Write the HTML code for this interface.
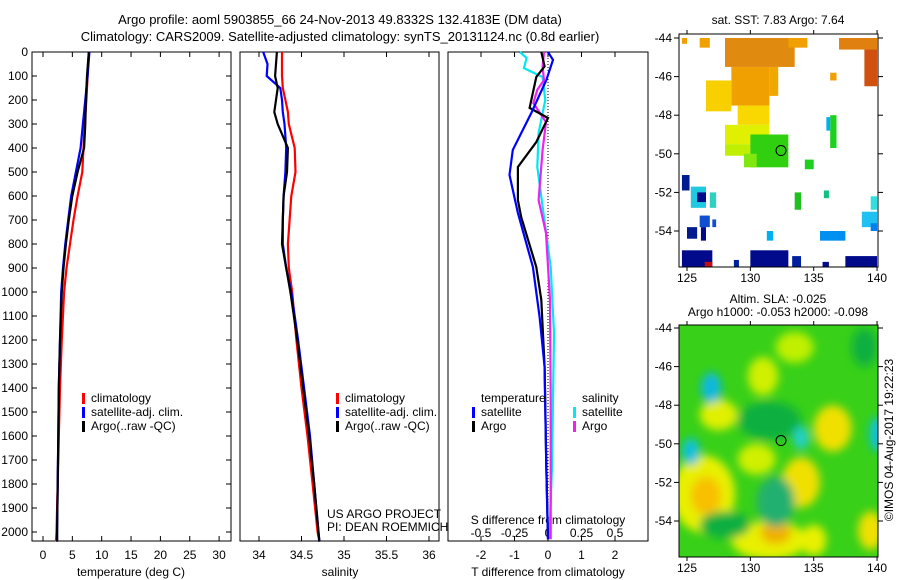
<!DOCTYPE html>
<html><head><meta charset="utf-8"><style>
html,body{margin:0;padding:0;background:#fff;}
svg{display:block;font-family:"Liberation Sans",sans-serif;}
</style></head><body>
<svg id="chart" width="900" height="580" viewBox="0 0 900 580" xmlns="http://www.w3.org/2000/svg">
<defs>
<filter id="blur" x="-50%" y="-50%" width="200%" height="200%"><feGaussianBlur stdDeviation="4.5"/></filter>
<clipPath id="clipTop"><rect x="679" y="34" width="199" height="233"/></clipPath>
<clipPath id="clipBot"><rect x="679" y="325" width="199" height="232"/></clipPath>
</defs>
<text x="340" y="24" font-size="13" text-anchor="middle">Argo profile: aoml 5903855_66 24-Nov-2013 49.8332S 132.4183E (DM data)</text>
<text x="340" y="41" font-size="13" text-anchor="middle">Climatology: CARS2009. Satellite-adjusted climatology: synTS_20131124.nc (0.8d earlier)</text>
<g id="g"></g>
</svg>
<script>
// ---- data ----
const depthTicks=[0,100,200,300,400,500,600,700,800,900,1000,1100,1200,1300,1400,1500,1600,1700,1800,1900,2000];
const tempTicks=[0,5,10,15,20,25,30];
const salTicks=[34,34.5,35,35.5,36];
const salTickLabels=["34","34.5","35","35.5","36"];
const tdTicks=[-2,-1,0,1,2];
const sdTicks=[-0.5,-0.25,0,0.25,0.5];
const sdTickLabels=["-0.5","-0.25","0","0.25","0.5"];

const tDepth=[0,100,200,300,400,500,600,700,800,900,1000,1200,1400,1600,1800,2000,2040];
const tClim=[7.8,7.6,7.4,7.1,6.9,6.7,5.9,5.2,4.6,4.0,3.6,3.2,2.9,2.7,2.5,2.3,2.2];
const tSat=[7.9,7.6,7.2,6.8,6.4,5.6,4.8,4.3,3.8,3.4,3.1,2.9,2.7,2.6,2.5,2.4,2.4];
const tArgo=[7.8,7.5,7.3,7.2,7.0,5.9,5.0,4.4,3.9,3.5,3.2,2.9,2.7,2.6,2.5,2.4,2.4];

const sDepth=[0,50,100,150,200,250,300,400,500,600,700,800,900,1000,1200,1400,1600,1800,2000,2040];
const sClim=[34.27,34.27,34.27,34.28,34.31,34.34,34.35,34.42,34.43,34.38,34.36,34.34,34.35,34.39,34.44,34.50,34.57,34.63,34.69,34.71];
const sSat=[34.05,34.10,34.09,34.25,34.27,34.28,34.30,34.32,34.31,34.29,34.28,34.28,34.32,34.38,34.46,34.53,34.60,34.65,34.70,34.71];
const sArgo=[34.21,34.20,34.19,34.22,34.20,34.18,34.22,34.34,34.33,34.29,34.28,34.27,34.32,34.37,34.45,34.52,34.59,34.65,34.70,34.71];

const dtSatDepth=[0,33,117,254,408,512,671,896,1104,1312,1729,2030];
const dtSat=[0,0.15,-0.05,-0.5,-1.05,-1.15,-0.9,-0.45,-0.25,-0.1,-0.05,0];
const dtArgoDepth=[0,60,104,233,275,375,479,617,688,896,1033,1312,1729,2030];
const dtArgo=[-0.2,-0.1,-0.35,-0.55,0,-0.35,-0.9,-0.9,-0.8,-0.35,-0.2,-0.1,-0.05,0];
const dsSatDepth=[0,25,67,104,200,337,479,688,896,1171,1729,2030];
const dsSat=[-0.21,-0.16,-0.18,-0.04,-0.02,-0.07,-0.08,-0.03,0.02,0.045,0.03,0.01];
const dsArgoDepth=[0,62,117,158,213,254,292,408,617,754,1033,1450,2030];
const dsArgo=[-0.03,-0.04,-0.03,-0.08,-0.11,-0.06,-0.015,-0.04,-0.07,-0.015,0.015,0.02,0.02];

const lonTicks=[125,130,135,140];
const latTicks=[-44,-46,-48,-50,-52,-54];
const sstPatches=[
[128,133.5,-44,-45.5,'#e08a10'],[128.5,131.5,-45.5,-47.5,'#f0a000'],[131.5,132.2,-45.5,-47,'#f0a800'],
[126.5,128.5,-46.2,-47.8,'#f8d000'],[129,131.5,-47.5,-48.5,'#f8d800'],[128,131.5,-48.5,-49.5,'#e0f000'],
[128,130,-49.5,-50.1,'#c0f000'],[130,133,-49,-50.7,'#30d010'],[129.5,130.5,-50,-50.7,'#80e810'],[134.3,135,-50.3,-50.8,'#20d020'],
[133.5,134,-52,-52.9,'#20c020'],[136.3,136.8,-48,-49.7,'#20d020'],[136,136.3,-48.1,-48.8,'#00b0f0'],
[135.8,136.2,-51.9,-52.3,'#10c080'],[139,140,-44,-46.5,'#d05010'],[137,140,-44,-44.6,'#e08010'],
[133,134.5,-44,-44.5,'#f0a000'],[136.3,136.8,-45.8,-46.2,'#f0a000'],[124.6,125,-44,-44.3,'#f0a000'],
[126,126.8,-44,-44.5,'#f0a000'],[124.6,127,-55,-55.9,'#000a8a'],[130,133,-55,-55.9,'#000a8a'],
[133.3,134,-55.3,-55.9,'#0020a0'],[135.7,136.2,-55.6,-55.9,'#000a8a'],[137.5,140,-55.3,-55.9,'#000a8a'],
[128.7,129.1,-55.5,-55.9,'#0020a0'],[126.4,127,-55.6,-55.9,'#c01010'],[124.6,125.2,-51.1,-51.9,'#001a90'],
[125.3,126.5,-51.7,-52.8,'#20c8e0'],[125.8,126.5,-52,-52.5,'#000a8a'],[126.8,127.3,-52,-52.8,'#30d0c0'],
[126,126.8,-53.2,-53.8,'#1050d0'],[125,125.8,-53.8,-54.4,'#001a90'],[126.1,126.5,-53.8,-54.5,'#000a8a'],
[127,127.3,-53.4,-53.8,'#1050d0'],[131.3,131.8,-54,-54.5,'#00b0f0'],[135.5,137.5,-54,-54.5,'#0090f0'],
[138.8,140,-53,-53.8,'#20c0f0'],[139.5,140,-52.2,-52.9,'#30e0e0'],[139.5,140,-53.6,-54,'#0080f0']];
const slaBlobs=[
[126.3,-52.6,2.5,2,'#e8f000'],[126.5,-52.7,1.2,1,'#f8c000'],[131.5,-55,3,1,'#e8f000'],[132,-54.6,1.2,0.6,'#f0b000'],
[136.5,-49.2,1.5,1.2,'#f0e000'],[134,-52,1.5,1.3,'#f0e000'],[130.5,-50.8,1.5,0.8,'#d0f000'],[131,-46.5,1.2,1,'#d0f000'],
[127.5,-48.5,1.5,0.8,'#e0f000'],[139.5,-54.5,1,1,'#f0e000'],[135,-55,1,0.8,'#e8f000'],[133.5,-45,1.5,0.8,'#c0f000'],
[131.5,-48.8,2.5,1,'#10b040'],[132,-53,1.5,1.3,'#20b070'],[128,-54.2,2,0.7,'#10b040'],[139,-45,1,1,'#10b040'],
[126.9,-47.1,0.8,0.8,'#10b8e0'],[125.3,-50.4,0.7,0.7,'#10c0e0'],[134,-49.7,0.6,0.6,'#20d0d0'],[140,-49.5,0.6,0.9,'#10c0e0']];

// ---- helpers ----
const NS="http://www.w3.org/2000/svg";
const root=document.getElementById('g');
function mk(tag,attrs,parent){const e=document.createElementNS(NS,tag);for(const k in attrs)e.setAttribute(k,attrs[k]);(parent||root).appendChild(e);return e;}
const Y0=52,YS=0.24;
function yD(d){return Y0+d*YS;}
function xT(v){return 43+v*5.87;}
function xS(v){return 259+(v-34)*85;}
function xDT(v){return 548+v*33.5;}
function xDS(v){return 548+v*134;}
function lonX(l){return 687+(l-125)*12.67;}
function latYTop(l){return 38+(-44-l)*19.3;}
function latYBot(l){return 328+(-44-l)*19.3;}

const panels=[[32,231,'temperature-panel'],[240,439,'salinity-panel'],[448,648,'difference-panel']];
panels.forEach(p=>{
  const r=mk('rect',{x:p[0],y:52,width:p[1]-p[0],height:489,fill:'none',stroke:'#000','stroke-width':1});
  
  
});
depthTicks.forEach(d=>{
  const t=mk('text',{x:28,y:yD(d)+4,'font-size':12,'text-anchor':'end'});t.textContent=d;
  
  
  mk('line',{x1:32,x2:37,y1:yD(d),y2:yD(d),stroke:'#000'});
  mk('line',{x1:226,x2:231,y1:yD(d),y2:yD(d),stroke:'#000'});
});
function xticks(ticks,labels,fx,ly){
  ticks.forEach((v,i)=>{
    const x=fx(v);
    mk('line',{x1:x,x2:x,y1:52,y2:57,stroke:'#000'});
    mk('line',{x1:x,x2:x,y1:536,y2:541,stroke:'#000'});
    const t=mk('text',{x:x,y:ly,'font-size':12,'text-anchor':'middle'});t.textContent=labels[i];
    
    
  });
}
xticks(tempTicks,tempTicks.map(String),xT,559);
xticks(salTicks,salTickLabels,xS,559);
xticks(tdTicks,tdTicks.map(String),xDT,559);
sdTicks.forEach((v,i)=>{
  const t=mk('text',{x:xDS(v),y:537,'font-size':12,'text-anchor':'middle'});t.textContent=sdTickLabels[i];
  
  
});
[[131,576,'temperature (deg C)','temperature-axis-title'],[340,576,'salinity','salinity-axis-title'],[548,576,'T difference from climatology','t-diff-axis-title'],[548,524,'S difference from climatology','s-diff-axis-title']].forEach(a=>{
  const t=mk('text',{x:a[0],y:a[1],'font-size':12,'text-anchor':'middle'});t.textContent=a[2];
  
  
});
mk('line',{x1:548,x2:548,y1:52,y2:541,stroke:'#000','stroke-dasharray':'1,2'});

function line(depths,vals,fx,color,name){
  const pts=depths.map((d,i)=>fx(vals[i]).toFixed(1)+','+yD(d).toFixed(1)).join(' ');
  const e=mk('polyline',{points:pts,fill:'none',stroke:color,'stroke-width':2.2});
  
  
}
line(tDepth,tClim,xT,'#f00','temp-climatology-line');
line(tDepth,tSat,xT,'#00f','temp-satellite-line');
line(tDepth,tArgo,xT,'#000','temp-argo-line');
line(sDepth,sClim,xS,'#f00','sal-climatology-line');
line(sDepth,sSat,xS,'#00f','sal-satellite-line');
line(sDepth,sArgo,xS,'#000','sal-argo-line');
line(dsSatDepth,dsSat,xDS,'#00e8f0','s-diff-satellite-line');
line(dsArgoDepth,dsArgo,xDS,'#f020f0','s-diff-argo-line');
line(dtArgoDepth,dtArgo,xDT,'#000','t-diff-argo-line');
line(dtSatDepth,dtSat,xDT,'#00f','t-diff-satellite-line');

function legend(x,y,color,label,name){
  if(color) mk('rect',{x:x-9,y:y-9,width:3,height:11,fill:color});
  const t=mk('text',{x:x,y:y,'font-size':12});t.textContent=label;
  
  
}
legend(91,402,'#f00','climatology','legend-climatology');
legend(91,416,'#00f','satellite-adj. clim.','legend-satellite');
legend(91,430,'#000','Argo(..raw -QC)','legend-argo');
legend(345,402,'#f00','climatology','legend-climatology-2');
legend(345,416,'#00f','satellite-adj. clim.','legend-satellite-2');
legend(345,430,'#000','Argo(..raw -QC)','legend-argo-2');
legend(481,402,null,'temperature','legend-temperature-heading');
legend(481,416,'#00f','satellite','legend-t-satellite');
legend(481,430,'#000','Argo','legend-t-argo');
legend(582,402,null,'salinity','legend-salinity-heading');
legend(582,416,'#00e8f0','satellite','legend-s-satellite');
legend(582,430,'#f020f0','Argo','legend-s-argo');
legend(327,518,null,'US ARGO PROJECT','credit-project');
legend(327,531,null,'PI: DEAN ROEMMICH','credit-pi');

// ---- maps ----
const gTop=mk('g',{'clip-path':'url(#clipTop)'});


sstPatches.forEach(p=>{
  const x0=lonX(p[0]),x1=lonX(p[1]),y0=latYTop(p[2]),y1=latYTop(p[3]);
  const r=mk('rect',{x:x0,y:y0,width:x1-x0,height:y1-y0,fill:p[4]},gTop);
  
  
});
const gBot=mk('g',{'clip-path':'url(#clipBot)'});


mk('rect',{x:679,y:325,width:199,height:232,fill:'#38d018'},gBot);
const gBlur=mk('g',{filter:'url(#blur)'},gBot);
slaBlobs.forEach(b=>{
  const e=mk('ellipse',{cx:lonX(b[0]),cy:latYBot(b[1]),rx:b[2]*12.67,ry:b[3]*19.3,fill:b[4]},gBlur);
  
  
});
function mapFrame(y0,y1,fy,name){
  const r=mk('rect',{x:679,y:y0,width:199,height:y1-y0,fill:'none',stroke:'#000'});
  
  
  latTicks.forEach(l=>{
    const y=fy(l);
    mk('line',{x1:674,x2:679,y1:y,y2:y,stroke:'#000'});
    mk('line',{x1:878,x2:883,y1:y,y2:y,stroke:'#000'});
    const t=mk('text',{x:672,y:y+4,'font-size':12,'text-anchor':'end'});t.textContent=l;
    
    
  });
  lonTicks.forEach(l=>{
    const x=lonX(l);
    mk('line',{x1:x,x2:x,y1:y0-4,y2:y0,stroke:'#000'});
    mk('line',{x1:x,x2:x,y1:y1,y2:y1+4,stroke:'#000'});
    const t=mk('text',{x:x,y:y1+15,'font-size':12,'text-anchor':'middle'});t.textContent=l;
    
    
  });
  const c=mk('circle',{cx:lonX(132.42),cy:fy(-49.83),r:5,fill:'none',stroke:'#000'});
  
  
}
mapFrame(34,267,latYTop,'sst-map-frame');
mapFrame(325,557,latYBot,'sla-map-frame');
[[778,24,'sat. SST: 7.83 Argo: 7.64','sst-map-title'],[778,303,'Altim. SLA: -0.025','sla-map-title'],[778,316,'Argo h1000: -0.053 h2000: -0.098','sla-map-subtitle']].forEach(a=>{
  const t=mk('text',{x:a[0],y:a[1],'font-size':12,'text-anchor':'middle'});t.textContent=a[2];
  
  
});
const cr=mk('text',{x:0,y:0,'font-size':12,'text-anchor':'middle',transform:'translate(893,440) rotate(-90)'});
cr.textContent='©IMOS 04-Aug-2017 19:22:23';


</script>
</body></html>
